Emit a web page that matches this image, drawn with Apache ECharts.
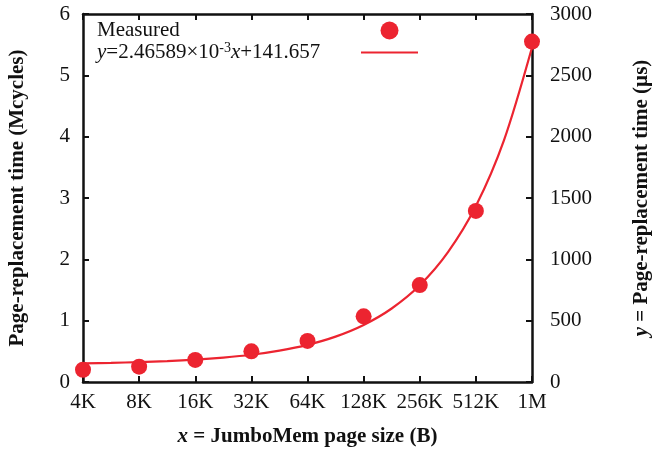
<!DOCTYPE html>
<html>
<head>
<meta charset="utf-8">
<script src="https://cdn.jsdelivr.net/npm/echarts@6/dist/echarts.min.js"></script>
<style>
  html, body { margin: 0; padding: 0; background: #fff; }
  #chart { width: 655px; height: 451px; }
</style>
</head>
<body>
<div id="chart"></div>
<script>
  // page sizes, one step per power of two
  var pageSizes = ['4K', '8K', '16K', '32K', '64K', '128K', '256K', '512K', '1M'];
  // measured page-replacement time (Mcycles)
  var measured = [0.20, 0.25, 0.36, 0.50, 0.67, 1.07, 1.58, 2.79, 5.55];
  // fitted line (position in log2 steps, value in µs)
  var fitPos = [0, 0.5, 1, 1.5, 2, 2.5, 3, 3.5, 4, 4.5, 5, 5.5, 6, 6.5, 7, 7.5, 8];
  var fitUs = [152, 156, 162, 170, 182, 199, 222, 256, 303, 370, 465, 599, 788, 1056, 1434, 1970, 2727];
  var leftTicks = [0, 6, 1];
  var rightTicks = [0, 3000, 500];

  var red = '#ec2430';
  var font = 'Liberation Serif';

  var myChart = echarts.init(document.getElementById('chart'));

  var axisLine = { show: true, onZero: false, lineStyle: { color: '#111', width: 2.5 } };
  var tick = { show: true, inside: true, length: 6, lineStyle: { color: '#111', width: 2 } };
  var txt = { fontFamily: font, fontSize: 21, color: '#111', align: 'left', lineHeight: 20 };
  var title = { fontFamily: font, fontSize: 21, fontWeight: 'bold', color: '#111' };
  var label = { fontFamily: font, fontSize: 21, color: '#111' };

  var option = {
    animation: false,
    textStyle: { fontFamily: font },
    grid: { left: 83, right: 123, top: 14, bottom: 69, outerBoundsMode: 'none' },
    legend: {
      left: 97,
      top: 20,
      padding: 0,
      orient: 'vertical',
      align: 'right',
      itemWidth: 57,
      itemHeight: 18,
      itemGap: 0,
      textStyle: {
        fontFamily: font,
        fontSize: 21,
        color: '#111',
        width: 259,
        rich: {
          n: txt,
          i: Object.assign({}, txt, { fontStyle: 'italic' }),
          sup: Object.assign({}, txt, { fontSize: 14, padding: [0, 0, 9, 0] })
        }
      },
      formatter: function (name) {
        if (name === 'fit') return '{i|y}{n|=2.46589×10}{sup|-3}{i|x}{n|+141.657}';
        return '{n|' + name + '}';
      },
      data: ['Measured', { name: 'fit', itemStyle: { opacity: 0 } }]
    },
    xAxis: [{
      type: 'value',
      min: 0, max: pageSizes.length - 1, interval: 1,
      name: '{i|x} = JumboMem page size (B)',
      nameLocation: 'middle',
      nameGap: 44,
      nameTextStyle: Object.assign({}, title, {
        rich: { i: Object.assign({}, title, { fontStyle: 'italic' }) }
      }),
      axisLine: axisLine,
      axisTick: tick,
      splitLine: { show: false },
      axisLabel: Object.assign({}, label, {
        margin: 10,
        formatter: function (v) { return pageSizes[v]; }
      })
    }, {
      type: 'value',
      position: 'top',
      min: 0, max: pageSizes.length - 1, interval: 1,
      axisLine: axisLine,
      axisTick: tick,
      splitLine: { show: false },
      axisLabel: { show: false }
    }],
    yAxis: [{
      type: 'value',
      min: leftTicks[0], max: leftTicks[1], interval: leftTicks[2],
      name: 'Page-replacement time (Mcycles)',
      nameLocation: 'middle',
      nameGap: 55,
      nameTextStyle: title,
      axisLine: axisLine,
      axisTick: tick,
      splitLine: { show: false },
      axisLabel: Object.assign({}, label, { margin: 13 })
    }, {
      type: 'value',
      position: 'right',
      min: rightTicks[0], max: rightTicks[1], interval: rightTicks[2],
      name: '{i|y} = Page-replacement time (µs)',
      nameLocation: 'middle',
      nameRotate: 90,
      nameGap: 99,
      nameTextStyle: Object.assign({}, title, {
        rich: { i: Object.assign({}, title, { fontStyle: 'italic' }) }
      }),
      axisLine: axisLine,
      axisTick: tick,
      splitLine: { show: false },
      axisLabel: Object.assign({}, label, {
        margin: 18,
        formatter: function (v) { return String(v); }
      })
    }],
    series: [{
      name: 'fit',
      type: 'line',
      yAxisIndex: 1,
      smooth: 0.3,
      symbol: 'none',
      lineStyle: { color: red, width: 2.2 },
      itemStyle: { color: red },
      data: fitPos.map(function (p, i) { return [p, fitUs[i]]; }),
      z: 2
    }, {
      name: 'Measured',
      type: 'scatter',
      symbol: 'circle',
      symbolSize: 16,
      itemStyle: { color: red, opacity: 1 },
      data: measured.map(function (v, i) { return [i, v]; }),
      z: 3
    }]
  };

  myChart.setOption(option);
</script>
</body>
</html>
